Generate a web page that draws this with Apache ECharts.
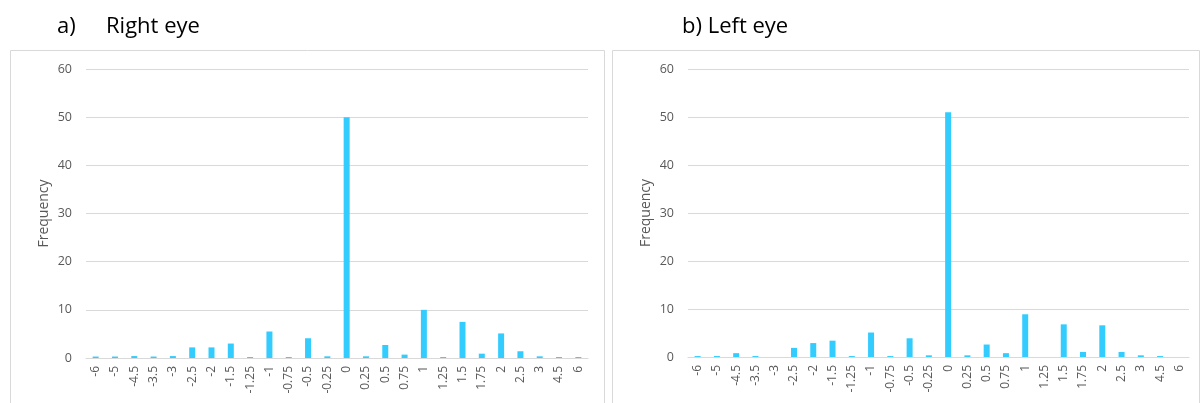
<!DOCTYPE html>
<html>
<head>
<meta charset="utf-8">
<script src="https://cdn.jsdelivr.net/npm/echarts@6/dist/echarts.min.js"></script>
<style>
  html, body { margin: 0; padding: 0; background: #ffffff; }
  #chart { width: 1202px; height: 403px; }
</style>
</head>
<body>
<div id="chart"></div>
<script>
// Refraction difference categories (dioptres) shared by both panels
const categories = ['-6', '-5', '-4.5', '-3.5', '-3', '-2.5', '-2', '-1.5', '-1.25', '-1', '-0.75', '-0.5', '-0.25',
  '0', '0.25', '0.5', '0.75', '1', '1.25', '1.5', '1.75', '2', '2.5', '3', '4.5', '6'];

// Frequencies, right eye
const rightEye = [0.3, 0.3, 0.4, 0.3, 0.4, 2.2, 2.2, 3.0, 0.2, 5.5, 0.2, 4.1, 0.35,
  50, 0.35, 2.7, 0.7, 10, 0.2, 7.5, 0.9, 5.1, 1.4, 0.35, 0.2, 0.2];

// Frequencies, left eye
const leftEye = [0.2, 0.2, 0.8, 0.2, 0, 1.9, 2.9, 3.4, 0.2, 5.1, 0.2, 3.9, 0.35,
  51, 0.35, 2.6, 0.8, 8.9, 0, 6.8, 1.05, 6.6, 1.05, 0.35, 0.2, 0];

const yTicks = { min: 0, max: 60, interval: 10 };

const FONT = 'Open Sans';
const GRAY = '#595959';
const LINE = '#d9d9d9';
const BAR = '#33ccff';

const chart = echarts.init(document.getElementById('chart'), null, { renderer: 'canvas' });

function xAxis(gridIndex) {
  return {
    type: 'category', gridIndex, data: categories,
    axisLine: { lineStyle: { color: LINE, width: 1 } },
    axisTick: { show: false },
    axisLabel: { rotate: 90, margin: 8, color: GRAY, fontFamily: FONT, fontSize: 12, interval: 0 }
  };
}
function yAxis(gridIndex) {
  return {
    type: 'value', gridIndex, min: yTicks.min, max: yTicks.max, interval: yTicks.interval,
    name: 'Frequency', nameLocation: 'middle', nameRotate: 90, nameGap: 35,
    nameTextStyle: { color: GRAY, fontFamily: FONT, fontSize: 14 },
    axisLine: { show: false }, axisTick: { show: false },
    axisLabel: { margin: 14, color: GRAY, fontFamily: FONT, fontSize: 12.5 },
    splitLine: { lineStyle: { color: LINE, width: 1 } }
  };
}
function barSeries(idx, data) {
  return {
    type: 'bar', xAxisIndex: idx, yAxisIndex: idx, data,
    barWidth: 6, itemStyle: { color: BAR }, silent: true, animation: false
  };
}

chart.setOption({
  animation: false,
  grid: [
    { left: 86, top: 69, width: 502, height: 289 },
    { left: 688, top: 69, width: 501, height: 288 }
  ],
  xAxis: [xAxis(0), xAxis(1)],
  yAxis: [yAxis(0), yAxis(1)],
  series: [barSeries(0, rightEye), barSeries(1, leftEye)],
  graphic: [
    { type: 'rect', shape: { x: 10.5, y: 50.5, width: 594, height: 360 }, style: { fill: 'none', stroke: LINE, lineWidth: 1 }, silent: true },
    { type: 'rect', shape: { x: 612.5, y: 50.5, width: 587, height: 360 }, style: { fill: 'none', stroke: LINE, lineWidth: 1 }, silent: true },
    { type: 'text', left: 57, top: 16, style: { text: 'a)', fontFamily: FONT, fontSize: 22, fill: '#000' } },
    { type: 'text', left: 106, top: 16, style: { text: 'Right eye', fontFamily: FONT, fontSize: 22, fill: '#000' } },
    { type: 'text', left: 682, top: 16, style: { text: 'b) Left eye', fontFamily: FONT, fontSize: 22, fill: '#000' } }
  ]
});
</script>
</body>
</html>
